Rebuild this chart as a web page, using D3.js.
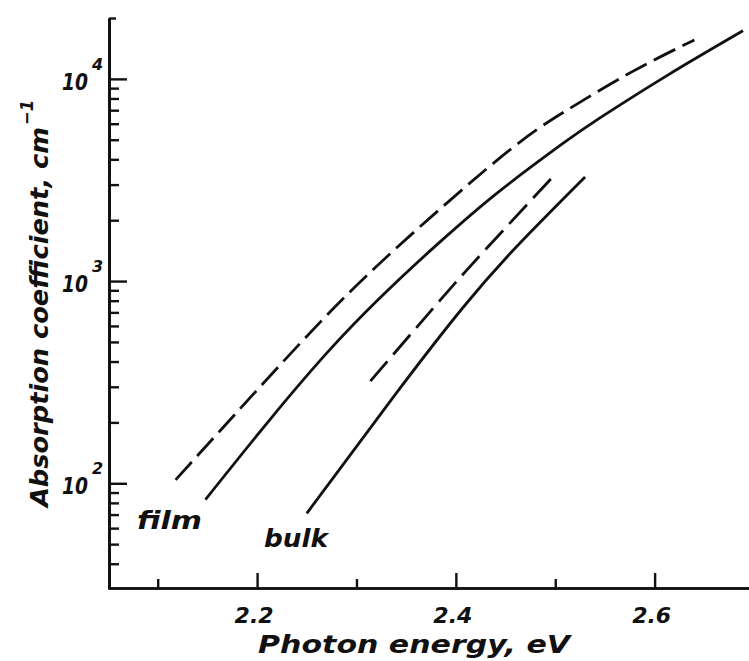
<!DOCTYPE html>
<html>
<head>
<meta charset="utf-8">
<script src="https://cdn.jsdelivr.net/npm/d3@7"></script>
<style>
  html, body { margin: 0; padding: 0; background: #fff; }
  svg { display: block; }
  text { font-family: "DejaVu Sans", "Liberation Sans", sans-serif; font-style: italic; fill: #111; }
</style>
</head>
<body>
<svg id="chart" width="749" height="661"></svg>
<script>
// ---- data ----
const filmDashedE = [2.118, 2.243, 2.333, 2.444, 2.511, 2.578, 2.640];
const filmDashedA = [104, 490, 1352, 4055, 6966, 10890, 15560];
const filmSolidE  = [2.148, 2.276, 2.381, 2.444, 2.507, 2.545, 2.612, 2.689];
const filmSolidA  = [83, 474, 1514, 2786, 4764, 6412, 10350, 17300];
const bulkDashedE = [2.314, 2.384, 2.431, 2.496];
const bulkDashedA = [320, 802, 1452, 3214];
const bulkSolidE  = [2.250, 2.341, 2.407, 2.461, 2.530];
const bulkSolidA  = [71, 283, 738, 1479, 3273];

const xMajor = [2.2, 2.4, 2.6];
const xMinor = [2.1, 2.3, 2.5];
const xTickLabels = ["2.2", "2.4", "2.6"];
const yMajor = [100, 1000, 10000];
const yMajorExp = ["2", "3", "4"];
const yMinor = [40, 50, 60, 70, 80, 90, 200, 300, 400, 500, 600, 700, 800, 900,
                2000, 3000, 4000, 5000, 6000, 7000, 8000, 9000];
const yCap = [20000];

const svg = d3.select("#chart");
const x = d3.scaleLinear().domain([2.052, 2.7]).range([110, 754]);
const y = d3.scaleLog().domain([30, 20000]).range([589, 18]);

const ink = "#111";

// ---- y axis (ticks inward) ----
const yAxisG = svg.append("g").attr("transform", "translate(109,0)");
yAxisG.append("g").call(d3.axisRight(y).tickValues(yMajor).tickSize(18).tickSizeOuter(0).tickFormat(""));
yAxisG.append("g").call(d3.axisRight(y).tickValues(yMinor).tickSize(10).tickSizeOuter(0).tickFormat(""));
yAxisG.append("g").call(d3.axisRight(y).tickValues(yCap).tickSize(7).tickSizeOuter(0).tickFormat(""));
yAxisG.selectAll("path.domain").attr("stroke", ink).attr("stroke-width", 2.6);
yAxisG.selectAll(".tick line").attr("stroke", ink).attr("stroke-width", 2.4);

// y tick labels 10^n
yMajor.forEach((v, i) => {
  svg.append("text")
    .attr("x", 88).attr("y", y(v) + 11)
    .attr("text-anchor", "end")
    .attr("font-size", 23).attr("font-weight", "bold")
    .attr("textLength", 26).attr("lengthAdjust", "spacingAndGlyphs")
    .text("10");
  svg.append("text")
    .attr("x", 92).attr("y", y(v) - 9)
    .attr("font-size", 16).attr("font-weight", "bold")
    .text(yMajorExp[i]);
});

// ---- x axis (ticks inward) ----
const xAxisG = svg.append("g").attr("transform", "translate(0,588)");
xAxisG.append("g").call(d3.axisTop(x).tickValues(xMajor).tickSize(15).tickSizeOuter(0).tickFormat(""));
xAxisG.append("g").call(d3.axisTop(x).tickValues(xMinor).tickSize(9).tickSizeOuter(0).tickFormat(""));
xAxisG.selectAll("path.domain").attr("stroke", ink).attr("stroke-width", 2.6);
xAxisG.selectAll(".tick line").attr("stroke", ink).attr("stroke-width", 2.4);

xMajor.forEach((v, i) => {
  svg.append("text")
    .attr("x", x(v) - 3).attr("y", 623)
    .attr("text-anchor", "middle")
    .attr("font-size", 22).attr("font-weight", "bold")
    .text(xTickLabels[i]);
});

// axis titles
svg.append("text")
  .attr("x", 258).attr("y", 653)
  .attr("font-size", 25).attr("font-weight", "bold")
  .attr("textLength", 312).attr("lengthAdjust", "spacingAndGlyphs")
  .text("Photon energy, eV");

svg.append("text")
  .attr("transform", "translate(48,507) rotate(-90)")
  .attr("font-size", 24).attr("font-weight", "bold")
  .attr("textLength", 380).attr("lengthAdjust", "spacingAndGlyphs")
  .text("Absorption coefficient, cm");
svg.append("text")
  .attr("transform", "translate(33,125) rotate(-90)")
  .attr("font-size", 18).attr("font-weight", "bold")
  .attr("textLength", 25).attr("lengthAdjust", "spacingAndGlyphs")
  .text("\u22121");

// ---- curves ----
const line = d3.line()
  .x(d => x(d[0]))
  .y(d => y(d[1]))
  .curve(d3.curveNatural);

function draw(E, A, dash) {
  svg.append("path")
    .datum(E.map((e, i) => [e, A[i]]))
    .attr("d", line)
    .attr("fill", "none")
    .attr("stroke", ink)
    .attr("stroke-width", 2.8)
    .attr("stroke-dasharray", dash);
}
draw(filmDashedE, filmDashedA, "24,8");
draw(filmSolidE, filmSolidA, null);
draw(bulkDashedE, bulkDashedA, "26,9");
draw(bulkSolidE, bulkSolidA, null);

// curve labels
svg.append("text").attr("x", 137).attr("y", 529).attr("font-size", 24).attr("font-weight", "bold")
  .attr("textLength", 65).attr("lengthAdjust", "spacingAndGlyphs").text("film");
svg.append("text").attr("x", 264).attr("y", 547).attr("font-size", 24).attr("font-weight", "bold")
  .attr("textLength", 64).attr("lengthAdjust", "spacingAndGlyphs").text("bulk");
</script>
</body>
</html>
